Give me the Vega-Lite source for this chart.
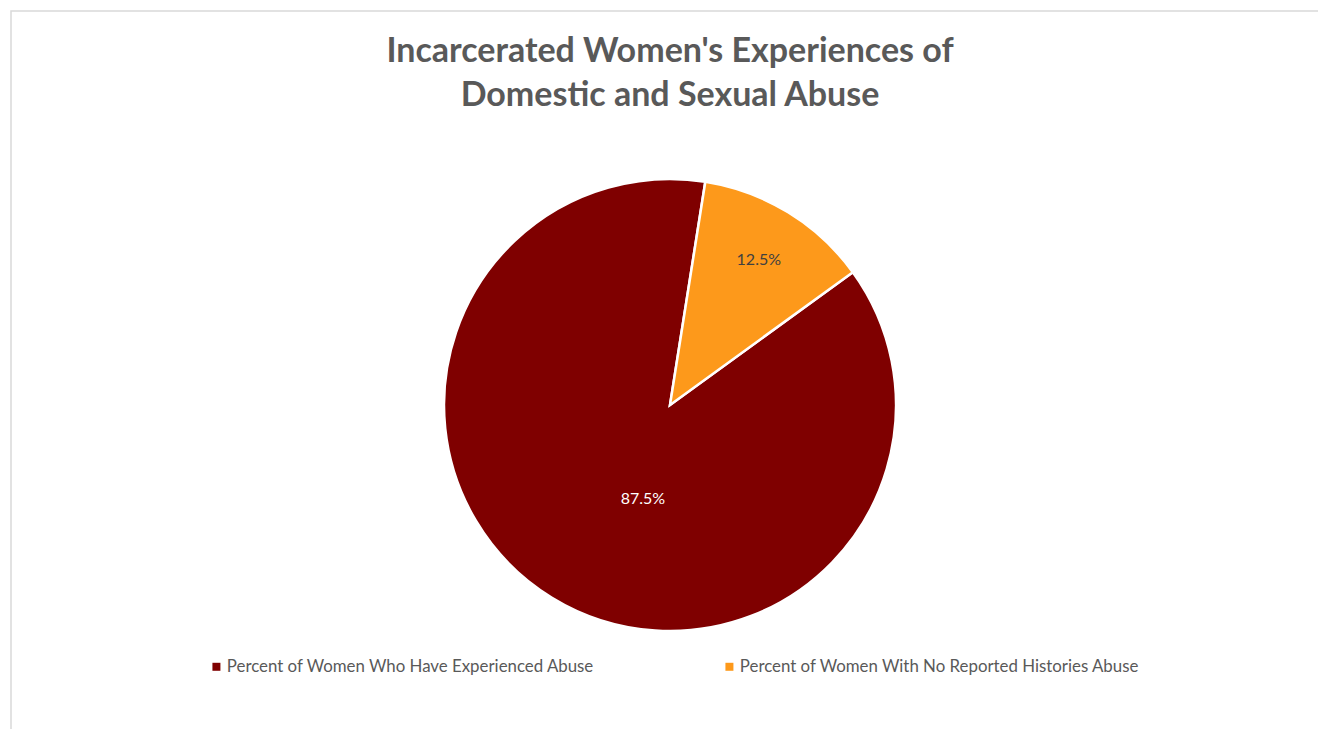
{
  "$schema": "https://vega.github.io/schema/vega-lite/v6.json",
  "autosize": "none",
  "width": 1318,
  "height": 788,
  "padding": {"left": 11, "top": 11, "right": 0, "bottom": 0},
  "background": "white",
  "view": {"stroke": "#d9d9d9", "strokeWidth": 1.5, "fill": "white"},
  "config": {
    "font": "Lato"
  },
  "title": {
    "text": ["Incarcerated Women's Experiences of", "Domestic and Sexual Abuse"],
    "anchor": "middle",
    "font": "Lato",
    "fontSize": 34,
    "fontWeight": "bold",
    "color": "#595959",
    "lineHeight": 44,
    "offset": -102
  },
  "data": {
    "values": [
      {"category": "Percent of Women Who Have Experienced Abuse", "value": 87.5, "label": "87.5%"},
      {"category": "Percent of Women With No Reported Histories Abuse", "value": 12.5, "label": "12.5%"}
    ]
  },
  "encoding": {
    "theta": {"field": "value", "type": "quantitative", "stack": true, "scale": {"range": [0.157, 6.440]}},
    "order": {"field": "category", "sort": "descending"},
    "color": {
      "field": "category",
      "type": "nominal",
      "scale": {
        "domain": ["Percent of Women Who Have Experienced Abuse", "Percent of Women With No Reported Histories Abuse"],
        "range": ["#7F0000", "#FD991B"]
      },
      "legend": {
        "title": null,
        "orient": "none",
        "direction": "horizontal",
        "legendX": 197,
        "legendY": 647,
        "symbolType": "square",
        "symbolSize": 64,
        "symbolStrokeWidth": 0,
        "labelFont": "Lato",
        "labelFontSize": 16.85,
        "labelColor": "#595959",
        "labelLimit": 500,
        "columnPadding": 126,
        "labelOffset": 2
      }
    }
  },
  "layer": [
    {
      "mark": {"type": "arc", "outerRadius": 226, "stroke": "white", "strokeWidth": 2.5}
    },
    {
      "transform": [{"filter": "datum.value < 50"}],
      "mark": {"type": "text", "radius": 170, "font": "Lato", "fontSize": 16},
      "encoding": {"text": {"field": "label"}, "color": {"value": "#404040"}}
    },
    {
      "transform": [{"filter": "datum.value > 50"}],
      "mark": {"type": "text", "radius": 98, "dx": -50, "dy": -1, "font": "Lato", "fontSize": 16},
      "encoding": {"text": {"field": "label"}, "color": {"value": "white"}}
    }
  ]
}
